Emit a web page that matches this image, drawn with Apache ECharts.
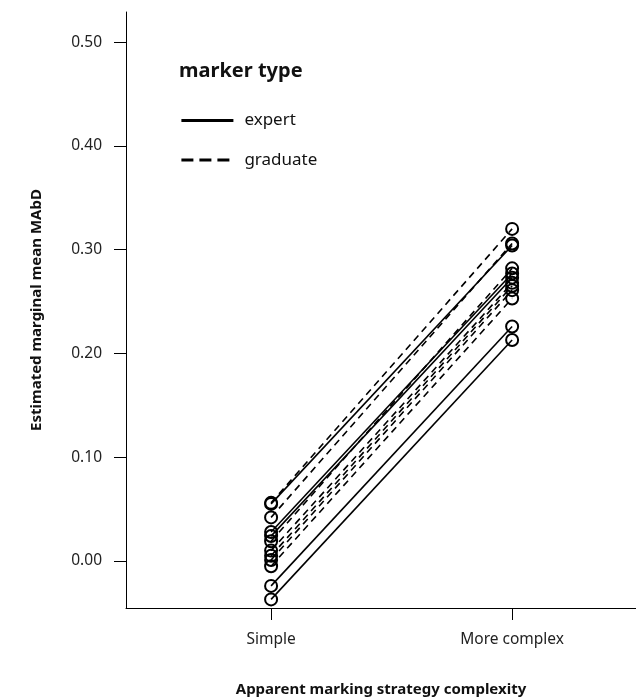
<!DOCTYPE html>
<html>
<head>
<meta charset="utf-8">
<script src="https://cdn.jsdelivr.net/npm/echarts@6/dist/echarts.min.js"></script>
<style>html,body{margin:0;padding:0;background:#fff}#c{width:636px;height:699px}</style>
</head>
<body>
<div id="c"></div>
<script>
var categories = ['Simple', 'More complex'];
var yTicks = [0, 0.1, 0.2, 0.3, 0.4, 0.5];
// expert markers: [simple, more complex]
var expertSimple  = [0.055, 0.028, 0.024, -0.024, -0.037];
var expertComplex = [0.304, 0.277, 0.273, 0.226, 0.213];
// graduate markers
var graduateSimple  = [0.056, 0.042, 0.019, 0.010, 0.005, 0.001, -0.005];
var graduateComplex = [0.320, 0.306, 0.282, 0.268, 0.265, 0.261, 0.253];

var FONT = 'Noto Sans';
var series = [];
function addMarkers(simple, complex, dashed) {
  for (var i = 0; i < simple.length; i++) {
    series.push({
      type: 'line',
      name: dashed ? 'graduate_' + i : 'expert_' + i,
      data: [[1, simple[i]], [2, complex[i]]],
      symbol: 'circle',
      symbolSize: 12,
      showSymbol: true,
      itemStyle: { color: 'rgba(0,0,0,0)', borderColor: '#000', borderWidth: 2 },
      lineStyle: { color: '#000', width: 1.6, type: dashed ? [7, 5] : 'solid' },
      emphasis: { disabled: true },
      silent: true,
      z: 2
    });
  }
}
addMarkers(expertSimple, expertComplex, false);
addMarkers(graduateSimple, graduateComplex, true);
// legend-only series
series.push({ type: 'line', name: 'expert', data: [], symbol: 'none',
  lineStyle: { color: '#000', width: 2.8, type: 'solid' }, itemStyle: { color: '#000' } });
series.push({ type: 'line', name: 'graduate', data: [], symbol: 'none',
  lineStyle: { color: '#000', width: 2.8, type: [12, 6] }, itemStyle: { color: '#000' } });

var chart = echarts.init(document.getElementById('c'), null, { renderer: 'canvas' });
chart.setOption({
  animation: false,
  backgroundColor: '#fff',
  grid: { left: 126, right: 0, top: 12, bottom: 91, outerBoundsMode: 'none', containLabel: false },
  title: {
    text: 'marker type', left: 174, top: 56,
    textStyle: { fontFamily: FONT, fontSize: 20, fontWeight: 'bold', color: '#111' }
  },
  legend: {
    data: ['expert', 'graduate'],
    orient: 'vertical', left: 175, top: 107,
    itemWidth: 52, itemHeight: 14, itemGap: 22.5,
    itemStyle: { color: 'rgba(0,0,0,0)', borderColor: 'rgba(0,0,0,0)', borderWidth: 0 },
    lineStyle: { width: 2.8, color: '#000' },
    textStyle: { fontFamily: FONT, fontSize: 17, color: '#111', padding: [0, 0, 0, 6] },
    selectedMode: false
  },
  xAxis: {
    type: 'value', min: 0.398, max: 2.514,
    name: 'Apparent marking strategy complexity', nameLocation: 'middle', nameGap: 74,
    nameTextStyle: { fontFamily: FONT, fontSize: 15, fontWeight: 'bold', color: '#111' },
    axisLine: { show: true, onZero: false, lineStyle: { color: '#000', width: 1 } },
    axisTick: { show: true, length: 12, customValues: [1, 2], lineStyle: { color: '#000' } },
    axisLabel: { customValues: [1, 2], margin: 24, fontFamily: FONT, fontSize: 15.5, color: '#222',
      formatter: function (v) { return categories[Math.round(v) - 1]; } },
    splitLine: { show: false }
  },
  yAxis: {
    type: 'value', min: -0.0453, max: 0.529,
    name: 'Estimated marginal mean MAbD', nameLocation: 'middle', nameGap: 82,
    nameTextStyle: { fontFamily: FONT, fontSize: 15, fontWeight: 'bold', color: '#111' },
    axisLine: { show: true, onZero: false, lineStyle: { color: '#000', width: 1 } },
    axisTick: { show: true, length: 12, customValues: yTicks, lineStyle: { color: '#000' } },
    axisLabel: { customValues: yTicks, margin: 24, fontFamily: FONT, fontSize: 15.5, color: '#222',
      formatter: function (v) { return v.toFixed(2); } },
    splitLine: { show: false }
  },
  series: series
});
</script>
</body>
</html>
